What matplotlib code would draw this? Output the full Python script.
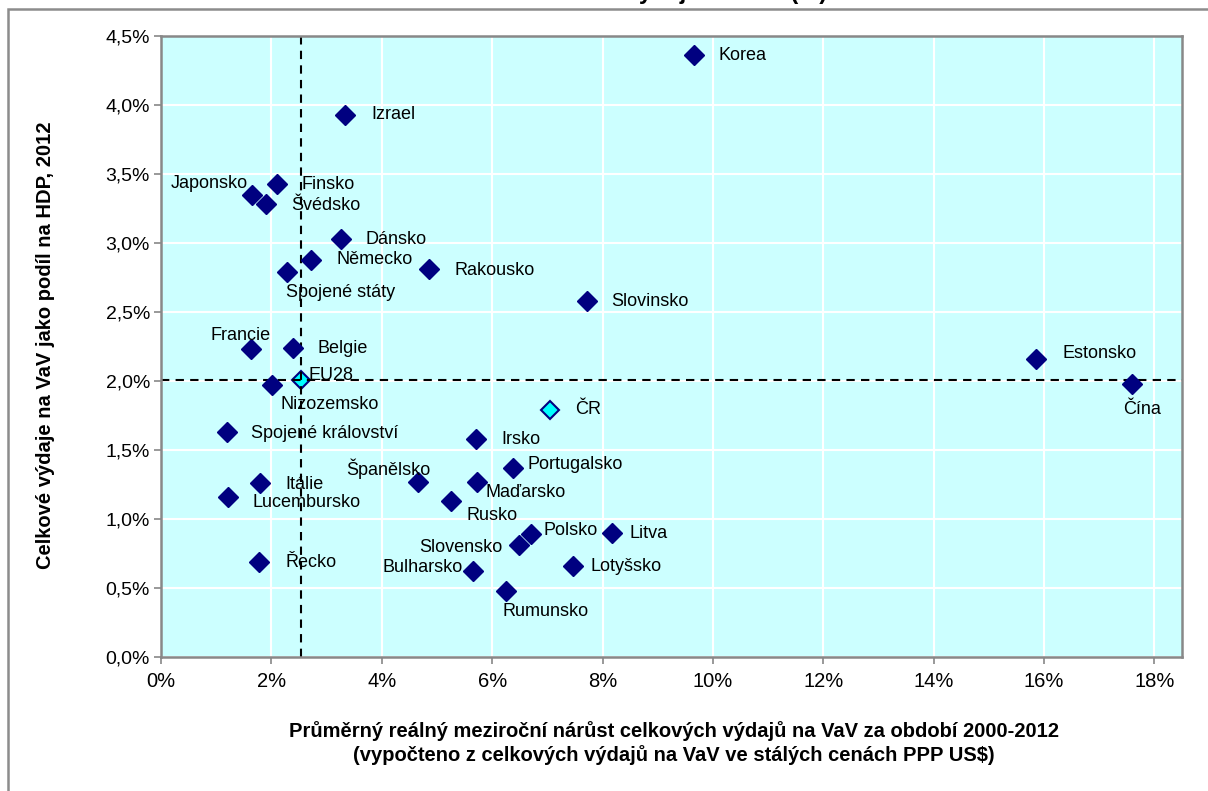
import matplotlib
matplotlib.use("Agg")
import matplotlib.pyplot as plt
from matplotlib.patches import Rectangle
from matplotlib.ticker import FuncFormatter

plt.rcParams['font.family'] = ['Liberation Sans', 'DejaVu Sans']

# ---- data (values in %) ----
countries = ["Korea", "Izrael", "Finsko", "Japonsko", "Švédsko", "Dánsko", "Německo",
             "Spojené státy", "Rakousko", "Slovinsko", "Francie", "Belgie", "Nizozemsko",
             "Estonsko", "Čína", "Spojené království", "Irsko", "Portugalsko", "Španělsko",
             "Maďarsko", "Itálie", "Lucembursko", "Rusko", "Polsko", "Litva", "Slovensko",
             "Řecko", "Bulharsko", "Lotyšsko", "Rumunsko"]
growth = [9.65, 3.34, 2.10, 1.65, 1.90, 3.26, 2.72,
          2.28, 4.86, 7.71, 1.63, 2.39, 2.01,
          15.85, 17.59, 1.20, 5.71, 6.38, 4.66,
          5.73, 1.80, 1.21, 5.26, 6.71, 8.18, 6.49,
          1.78, 5.66, 7.47, 6.26]
gerd = [4.36, 3.93, 3.43, 3.35, 3.28, 3.03, 2.88,
        2.79, 2.81, 2.58, 2.23, 2.24, 1.97,
        2.16, 1.98, 1.63, 1.58, 1.37, 1.27,
        1.27, 1.26, 1.16, 1.13, 0.89, 0.90, 0.81,
        0.69, 0.62, 0.66, 0.48]

highlight = ["EU28", "ČR"]
highlight_growth = [2.54, 7.04]
highlight_gerd = [2.01, 1.79]

ref_growth = 2.54   # EU28 reference lines
ref_gerd = 2.01

x_ticks = [0, 2, 4, 6, 8, 10, 12, 14, 16, 18]
y_ticks = [0.0, 0.5, 1.0, 1.5, 2.0, 2.5, 3.0, 3.5, 4.0, 4.5]

# label offsets in pixels (dx, dy up, ha)
label_pos = {
    "Korea": (25, 0, "left"), "Izrael": (26, 0, "left"), "Finsko": (25, -1, "left"),
    "Japonsko": (-4, 11, "right"), "Švédsko": (25, -1, "left"), "Dánsko": (25, -1, "left"),
    "Německo": (25, 0, "left"), "Spojené státy": (-1, -21, "left"),
    "Rakousko": (25, -1, "left"), "Slovinsko": (25, -1, "left"),
    "Francie": (-10, 14, "center"), "Belgie": (25, -1, "left"),
    "Nizozemsko": (9, -19, "left"), "Estonsko": (27, 5, "left"),
    "Čína": (10, -26, "center"), "Spojené království": (24, -1, "left"),
    "Irsko": (25, -1, "left"), "Portugalsko": (14, 3, "left"),
    "Španělsko": (12, 13, "right"), "Maďarsko": (8, -11, "left"),
    "Itálie": (25, -1, "left"), "Lucembursko": (25, -6, "left"),
    "Rusko": (15, -14, "left"), "Polsko": (12, 4, "left"), "Litva": (17, -1, "left"),
    "Slovensko": (-17, -2, "right"), "Řecko": (26, -1, "left"),
    "Bulharsko": (-11, 4, "right"), "Lotyšsko": (17, -1, "left"),
    "Rumunsko": (-4, -21, "left"), "EU28": (7, 4, "left"), "ČR": (26, 0, "left"),
}

W, H = 1208, 791
fig = plt.figure(figsize=(W / 100, H / 100), dpi=100)
fig.patch.set_facecolor("white")

# outer frame
fig.patches.append(Rectangle((8 / W, -0.05), 1.2, 1 - 9 / H + 0.05, transform=fig.transFigure,
                             fill=False, edgecolor="#8c8c8c", linewidth=1.8))
# title, only its lowest part visible (as in the reference)
fig.text(678 / W, 1 + 1.5 / H, "Celkové výdaje na VaV (%)", ha="center", va="baseline",
         fontsize=17, fontweight="bold")

L, R, T, B = 161, 1182, 36, 657
ax = fig.add_axes([L / W, 1 - B / H, (R - L) / W, (B - T) / H])
ax.set_facecolor("#CCFFFF")
ax.set_xlim(0, 18.5)
ax.set_ylim(0, 4.5)
ax.set_xticks(x_ticks)
ax.set_yticks(y_ticks)
ax.xaxis.set_major_formatter(FuncFormatter(lambda v, p: f"{v:.0f}%"))
ax.yaxis.set_major_formatter(FuncFormatter(lambda v, p: f"{v:.1f}%".replace(".", ",")))
ax.grid(True, color="white", linewidth=1.5)
ax.set_axisbelow(True)
for s in ax.spines.values():
    s.set_color("#888888")
    s.set_linewidth(1.8)
ax.tick_params(axis="both", direction="out", length=5, width=1.2, color="#888888")
ax.tick_params(axis="x", labelsize=14.5, pad=6)
ax.tick_params(axis="y", labelsize=14, pad=3)

ax.axvline(ref_growth, color="black", linestyle=(0, (4, 3)), linewidth=1.5, zorder=2)
ax.axhline(ref_gerd, color="black", linestyle=(0, (4, 3)), linewidth=1.5, zorder=2)

ax.plot(growth, gerd, linestyle="none", marker="D", markersize=10.5,
        markerfacecolor="#000080", markeredgecolor="#000080", zorder=3)
ax.plot(highlight_growth, highlight_gerd, linestyle="none", marker="D", markersize=9,
        markerfacecolor="#00FFFF", markeredgecolor="#000080", markeredgewidth=1.5, zorder=1.5)

k = 72 / 100
for name, gx, gy in list(zip(countries, growth, gerd)) + list(zip(highlight, highlight_growth, highlight_gerd)):
    dx, dy, ha = label_pos[name]
    ax.annotate(name, (gx, gy), xytext=(dx * k, dy * k), textcoords="offset points",
                ha=ha, va="center", fontsize=13, zorder=4)

fig.text(46 / W, 1 - 345 / H, "Celkové výdaje na VaV jako podíl na HDP, 2012", rotation=90,
         ha="center", va="center", fontsize=14.5, fontweight="bold")
fig.text(674 / W, 1 - 731 / H,
         "Průměrný reálný meziroční nárůst celkových výdajů na VaV za období 2000-2012",
         ha="center", va="center", fontsize=14.5, fontweight="bold")
fig.text(674 / W, 1 - 755 / H,
         "(vypočteno z celkových výdajů na VaV ve stálých cenách PPP US$)",
         ha="center", va="center", fontsize=14.5, fontweight="bold")

fig.savefig("out.png", dpi=100)
